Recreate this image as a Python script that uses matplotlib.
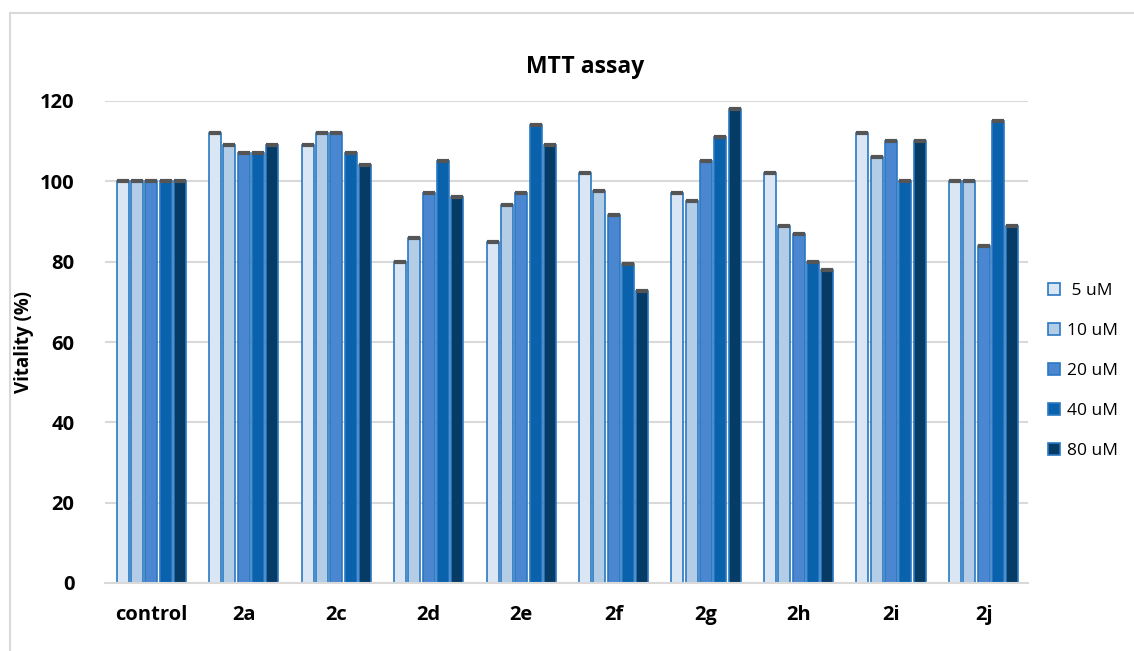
import matplotlib.pyplot as plt
import numpy as np
from matplotlib.patches import Rectangle

plt.rcParams['font.family'] = ['Open Sans', 'DejaVu Sans']

groups = ['control', '2a', '2c', '2d', '2e', '2f', '2g', '2h', '2i', '2j']
conc = [' 5 uM', '10 uM', '20 uM', '40 uM', '80 uM']
vals = {
    ' 5 uM': [100, 112, 109, 80, 85, 102, 97, 102, 112, 100],
    '10 uM': [100, 109, 112, 86, 94, 97.5, 95, 89, 106, 100],
    '20 uM': [100, 107, 112, 97, 97, 91.5, 105, 87, 110, 84],
    '40 uM': [100, 107, 107, 105, 114, 79.3, 111, 80, 100, 115],
    '80 uM': [100, 109, 104, 96, 109, 72.7, 118, 78, 110, 89],
}
colors = ['#dae6f4', '#b3cde6', '#4a87d0', '#0a62ad', '#063b66']

fig = plt.figure(figsize=(11.34, 6.51), dpi=100)
ax = fig.add_axes([105/1134, 1-583/651, 923/1134, (583-101)/651])

# outer frame, cropped at right and bottom like the screenshot
fig.patches.append(Rectangle((10/1134, -0.1), 1.2, 1-13/651+0.1,
    transform=fig.transFigure, fill=False, ec='#d9d9d9', lw=1.5))

x = np.arange(len(groups))
pitch = 0.155
w = 0.13
for i, c in enumerate(conc):
    xs = x + (i-2)*pitch
    ax.bar(xs, vals[c], w, color=colors[i], edgecolor='#2a78c2', lw=1.2,
        label=c, zorder=2)
    # dark caps on top of bars
    ax.hlines(vals[c], xs-w/2, xs+w/2, color='#555555', lw=3, zorder=3)

ax.set_xlim(-0.5, 9.48)
ax.set_ylim(0, 120)
ax.set_yticks(range(0, 121, 20))
ax.set_xticks(x)
ax.set_xticklabels(groups)
ax.grid(axis='y', color='#d9d9d9', lw=1.5, zorder=0)
ax.set_axisbelow(True)
for s in ['top', 'right', 'left']:
    ax.spines[s].set_visible(False)
ax.spines['bottom'].set_color('#d9d9d9')
ax.spines['bottom'].set_linewidth(1.5)
ax.tick_params(length=0, labelsize=14.5)
ax.tick_params(axis='x', pad=16)
ax.tick_params(axis='y', pad=22)
for t in ax.get_xticklabels() + ax.get_yticklabels():
    t.set_fontweight('bold')
ax.set_ylabel('Vitality (%)', fontsize=13.5, fontweight='bold', labelpad=4)
ax.set_title('MTT assay', fontsize=16.5, fontweight='bold', pad=20, x=0.52)

leg = ax.legend(loc='center left', bbox_to_anchor=(1.005, 0.44), frameon=False,
    fontsize=12.5, handlelength=0.7, handleheight=0.7, labelspacing=1.38,
    handletextpad=0.4)

plt.savefig('out.png', dpi=100)
